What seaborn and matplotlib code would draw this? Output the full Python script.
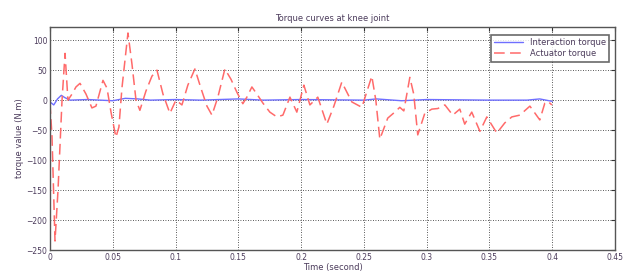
import numpy as np
import pandas as pd
import matplotlib
matplotlib.use("Agg")
import matplotlib.pyplot as plt
import seaborn as sns

# actuator torque (N.m)
act_t = [0, 0.0016, 0.004, 0.0064, 0.0096, 0.012, 0.0143, 0.0175, 0.0207, 0.0239,
         0.0287, 0.0334, 0.0366, 0.0422, 0.0454, 0.0486, 0.0525, 0.0549, 0.0573, 0.0621,
         0.0653, 0.0685, 0.0716, 0.0764, 0.0812, 0.0852, 0.0900, 0.0955, 0.1003, 0.1051,
         0.1098, 0.1154, 0.1202, 0.1250, 0.1290, 0.1337, 0.1393, 0.1441, 0.1489, 0.1536,
         0.1568, 0.1608, 0.1648, 0.1696, 0.1751, 0.1807, 0.1855, 0.1911, 0.1966, 0.2022,
         0.2070, 0.2133, 0.2205, 0.2261, 0.2324, 0.2404, 0.2484, 0.2563, 0.2595, 0.2627,
         0.2690, 0.2746, 0.2786, 0.2818, 0.2866, 0.2897, 0.2929, 0.2985, 0.3041, 0.3089,
         0.3145, 0.3208, 0.3264, 0.3303, 0.3359, 0.3424, 0.3479, 0.3559, 0.3622, 0.3678,
         0.3742, 0.3822, 0.3901, 0.3941, 0.3965, 0.3997]
act_v = [-5, -60, -235, -150, 0, 78, 0, 10, 22, 28,
         10, -13, -10, 33, 20, -20, -62, -45, 20, 112,
         60, 0, -17, 15, 40, 50, 10, -22, 0, -8,
         25, 52, 20, -10, -25, 5, 52, 35, 13, -6,
         5, 22, 10, -5, -20, -28, -25, 5, -20, 25,
         -8, 5, -40, -10, 30, -3, -12, 40, 0, -65,
         -30, -20, -12, -18, 38, 10, -58, -22, -15, -14,
         -8, -25, -15, -40, -20, -52, -28, -55, -38, -28,
         -25, -10, -33, -5, -2, -8]

# interaction torque (N.m)
int_t = [0, 0.003, 0.006, 0.009, 0.012, 0.016, 0.03, 0.05, 0.06, 0.07, 0.08,
         0.1, 0.12, 0.15, 0.17, 0.2, 0.25, 0.26, 0.28, 0.3, 0.35, 0.38, 0.39, 0.4]
int_v = [-3, -8, 2, 8, 4, 0, 1, -1, 3, 2, 0,
         1, 0, 2, 0, 1, 0, 2, -1, 1, 0, 0, 2, -2]

act = pd.DataFrame({"t": act_t, "v": act_v})
inter = pd.DataFrame({"t": int_t, "v": int_v})

sns.set_style("white")
txt = "#4b3b5b"

fig = plt.figure(figsize=(6.24, 2.78), dpi=100)
ax = fig.add_axes([0.0801, 0.1007, 0.9055, 0.8022])

sns.lineplot(data=inter, x="t", y="v", ax=ax, color="#6f6fff", linewidth=1.0,
             label="Interaction torque", sort=False)
sns.lineplot(data=act, x="t", y="v", ax=ax, color="#ff6a6a", linewidth=1.1,
             label="Actuator torque", sort=False)
ax.lines[1].set_dashes([7, 3.5])

ax.set_xlim(0, 0.45)
ax.set_ylim(-250, 122)
ax.set_xticks(np.arange(0, 0.451, 0.05))
ax.set_xticklabels(["0", "0.05", "0.1", "0.15", "0.2", "0.25", "0.3", "0.35", "0.4", "0.45"])
ax.set_yticks(np.arange(-250, 101, 50))
ax.grid(True, color="#222222", linestyle=(0, (1, 2)), linewidth=0.6)
ax.tick_params(direction="in", length=3, labelsize=5.5, labelcolor=txt, color="#333333",
               top=True, right=True, pad=2)
for s in ax.spines.values():
    s.set_color("#555555")
    s.set_linewidth(1.0)

ax.set_title("Torque curves at knee joint", fontsize=6, color=txt, pad=4)
ax.set_xlabel("Time (second)", fontsize=6, color=txt, labelpad=1)
ax.set_ylabel("torque value (N.m)", fontsize=6, color=txt, labelpad=2)

leg = ax.legend(loc="upper right", fontsize=6, frameon=True, fancybox=False,
                handlelength=3.5, borderpad=0.4, labelspacing=0.3,
                bbox_to_anchor=(0.997, 0.985))
leg.get_frame().set_edgecolor("#444444")
leg.get_frame().set_linewidth(1.2)
for t in leg.get_texts():
    t.set_color(txt)

fig.savefig("out.png", dpi=100)
